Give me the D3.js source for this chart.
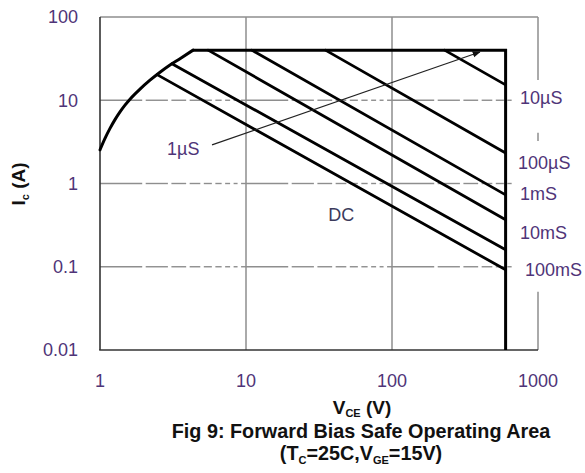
<!DOCTYPE html>
<html>
<head>
<meta charset="utf-8">
<script src="https://cdn.jsdelivr.net/npm/d3@7/dist/d3.min.js"></script>
<style>
  html, body { margin: 0; padding: 0; background: #fff; }
  svg { display: block; }
  text { font-family: "Liberation Sans", Arial, sans-serif; }
</style>
</head>
<body>
<svg id="chart" width="585" height="473"></svg>
<script>
// Axis ticks
const vTicks = [1, 10, 100, 1000];
const vTickLabels = ["1", "10", "100", "1000"];
const iTicks = [0.01, 0.1, 1, 10, 100];
const iTickLabels = ["0.01", "0.1", "1", "10", "100"];

// Device limits
const iLimit = 40;      // A, package current limit
const vLimit = 600;     // V, breakdown voltage

// Low-voltage boundary on the left (V, A)
const boundaryV = [1.0, 1.082, 1.171, 1.267, 1.371, 1.483, 1.605, 1.879, 2.2, 2.576, 3.016, 3.53, 4.34];
const boundaryI = [2.54, 3.48, 4.59, 5.85, 7.24, 8.73, 10.3, 13.6, 17.4, 21.7, 26.5, 31.6, 40];

// Pulse-width lines: start point on the boundary, end point at vLimit
const pulseNames  = ["10µS", "100µS", "1mS", "10mS", "100mS", "DC"];
const pulseStartV = [229, 35, 10.95, 5.5, 3.11, 2.46];
const pulseStartI = [40, 40, 40, 40, 27.5, 20.3];
const pulseEndI   = [15.3, 2.33, 0.73, 0.366, 0.16, 0.092];

// Arrow towards shorter pulses (1µS)
const arrowFrom = [5.85, 2.91];
const arrowTo   = [400, 38];

const svg = d3.select("#chart");
const plotLeft = 100, plotRight = 538, plotTop = 17, plotBottom = 350;

const x = d3.scaleLog().domain([1, 1000]).range([plotLeft, plotRight]);
const y = d3.scaleLog().domain([0.01, 100]).range([plotBottom, plotTop]);

const gridColor = "#8e8e8e";
const textColor = "#4f3478";

// Vertical grid lines
svg.append("g").selectAll("line")
  .data([10, 100])
  .join("line")
  .attr("x1", d => x(d)).attr("x2", d => x(d))
  .attr("y1", y(100)).attr("y2", y(0.01))
  .attr("stroke", gridColor).attr("stroke-width", 1.5);

// Horizontal grid lines, broken at each minor decade step
const gap = 3.5;
const gridEnd = 660;
const hLines = [0.1, 1, 10];
const segs = [];
hLines.forEach(iv => {
  [1, 10, 100].forEach(dec => {
    for (let m = 1; m <= 9; m++) {
      const v0 = m * dec, v1 = (m + 1) * dec;
      if (v0 >= gridEnd) continue;
      const clipped = v1 > gridEnd;
      segs.push({
        iv,
        x0: x(v0) + (m === 1 ? 0 : gap / 2),
        x1: x(Math.min(v1, gridEnd)) - (m === 9 || clipped ? 0 : gap / 2)
      });
    }
  });
});
svg.append("g").selectAll("line")
  .data(segs)
  .join("line")
  .attr("x1", d => d.x0).attr("x2", d => d.x1)
  .attr("y1", d => y(d.iv)).attr("y2", d => y(d.iv))
  .attr("stroke", gridColor).attr("stroke-width", 1.4);

// Frame: grey top and right edge (right edge broken around the labels), dark left and bottom
svg.append("line")
  .attr("x1", x(1)).attr("x2", x(1000)).attr("y1", y(100)).attr("y2", y(100))
  .attr("stroke", gridColor).attr("stroke-width", 1.5);
const rightEdge = [[100, 17.5], [4.06, 3.25], [0.05, 0.01]];
svg.append("g").selectAll("line")
  .data(rightEdge)
  .join("line")
  .attr("x1", x(1000)).attr("x2", x(1000))
  .attr("y1", d => y(d[0])).attr("y2", d => y(d[1]))
  .attr("stroke", gridColor).attr("stroke-width", 1.5);
svg.append("line")
  .attr("x1", x(1)).attr("x2", x(1)).attr("y1", y(100)).attr("y2", y(0.01))
  .attr("stroke", "#333").attr("stroke-width", 1.6);
svg.append("line")
  .attr("x1", x(1) - 0.8).attr("x2", x(1000)).attr("y1", y(0.01)).attr("y2", y(0.01))
  .attr("stroke", "#333").attr("stroke-width", 1.6);

// Safe operating area outline: smooth low-voltage boundary, then the current and voltage limits
const boundary = boundaryV.map((v, k) => [v, boundaryI[k]]);
const smooth = d3.line().x(d => x(d[0])).y(d => y(d[1])).curve(d3.curveMonotoneX);
const straight = d3.line().x(d => x(d[0])).y(d => y(d[1]));
svg.append("path")
  .attr("d", smooth(boundary))
  .attr("fill", "none").attr("stroke", "#000").attr("stroke-width", 3)
  .attr("stroke-linecap", "round");
svg.append("path")
  .attr("d", straight([boundary[boundary.length - 1], [vLimit, iLimit], [vLimit, 0.01]]))
  .attr("fill", "none").attr("stroke", "#000").attr("stroke-width", 3)
  .attr("stroke-linejoin", "miter");

// Pulse-width lines
svg.append("g").selectAll("line")
  .data(pulseNames.map((n, k) => ({ n, v0: pulseStartV[k], i0: pulseStartI[k], i1: pulseEndI[k] })))
  .join("line")
  .attr("x1", d => x(d.v0)).attr("y1", d => y(d.i0))
  .attr("x2", x(vLimit)).attr("y2", d => y(d.i1))
  .attr("stroke", "#000").attr("stroke-width", 2.8).attr("stroke-linecap", "round");

// Arrow
svg.append("defs").append("marker")
  .attr("id", "head").attr("viewBox", "0 0 10 10")
  .attr("refX", 9).attr("refY", 5)
  .attr("markerWidth", 8).attr("markerHeight", 8)
  .attr("markerUnits", "userSpaceOnUse")
  .attr("orient", "auto")
  .append("path").attr("d", "M0,1 L10,5 L0,9 Z").attr("fill", "#111");
svg.append("line")
  .attr("x1", x(arrowFrom[0])).attr("y1", y(arrowFrom[1]))
  .attr("x2", x(arrowTo[0])).attr("y2", y(arrowTo[1]))
  .attr("stroke", "#222").attr("stroke-width", 1.2)
  .attr("marker-end", "url(#head)");

// Tick labels
svg.append("g").selectAll("text")
  .data(iTicks)
  .join("text")
  .attr("x", plotLeft - 22).attr("y", d => y(d))
  .attr("dy", "0.36em")
  .attr("text-anchor", "end")
  .attr("font-size", 18).attr("fill", textColor)
  .text((d, k) => iTickLabels[k]);
svg.append("g").selectAll("text")
  .data(vTicks)
  .join("text")
  .attr("x", d => x(d)).attr("y", 387)
  .attr("text-anchor", "middle")
  .attr("font-size", 18).attr("fill", textColor)
  .text((d, k) => vTickLabels[k]);

// Pulse labels to the right of the outline
const labelPos = [
  { t: "10µS",  dx: -18, i: 10.7 },
  { t: "100µS", dx: -20, i: 1.8 },
  { t: "1mS",   dx: -18, i: 0.76 },
  { t: "10mS",  dx: -18, i: 0.255 },
  { t: "100mS", dx: -13, i: 0.093 }
];
svg.append("g").selectAll("text")
  .data(labelPos)
  .join("text")
  .attr("x", d => x(1000) + d.dx).attr("y", d => y(d.i))
  .attr("dy", "0.36em")
  .attr("font-size", 18).attr("fill", textColor)
  .text(d => d.t);

svg.append("text")
  .attr("x", x(arrowFrom[0]) - 45).attr("y", y(arrowFrom[1]) + 10)
  .attr("font-size", 18).attr("fill", textColor)
  .text("1µS");
svg.append("text")
  .attr("x", x(45)).attr("y", y(0.42))
  .attr("text-anchor", "middle").attr("dy", "0.36em")
  .attr("font-size", 18).attr("fill", "#3a3a5c")
  .text("DC");

// Axis titles
const yTitle = svg.append("text")
  .attr("transform", "translate(25,184) rotate(-90)")
  .attr("text-anchor", "middle")
  .attr("font-size", 19).attr("font-weight", "bold").attr("fill", "#111");
yTitle.append("tspan").text("I");
yTitle.append("tspan").attr("font-size", 11).attr("dy", 4).text("c");
yTitle.append("tspan").attr("dy", -4).text(" (A)");

const xTitle = svg.append("text")
  .attr("x", 362).attr("y", 414)
  .attr("text-anchor", "middle")
  .attr("font-size", 19).attr("font-weight", "bold").attr("fill", "#111");
xTitle.append("tspan").text("V");
xTitle.append("tspan").attr("font-size", 11).attr("dy", 3).text("CE");
xTitle.append("tspan").attr("dy", -3).text(" (V)");

svg.append("text")
  .attr("x", 361).attr("y", 438)
  .attr("text-anchor", "middle")
  .attr("font-size", 19.8).attr("font-weight", "bold").attr("fill", "#111")
  .text("Fig 9: Forward Bias Safe Operating Area");

const sub = svg.append("text")
  .attr("x", 361).attr("y", 460)
  .attr("text-anchor", "middle")
  .attr("font-size", 19.8).attr("font-weight", "bold").attr("fill", "#111");
sub.append("tspan").text("(T");
sub.append("tspan").attr("font-size", 11).attr("dy", 4).text("C");
sub.append("tspan").attr("dy", -4).text("=25C,V");
sub.append("tspan").attr("font-size", 11).attr("dy", 4).text("GE");
sub.append("tspan").attr("dy", -4).text("=15V)");
</script>
</body>
</html>
